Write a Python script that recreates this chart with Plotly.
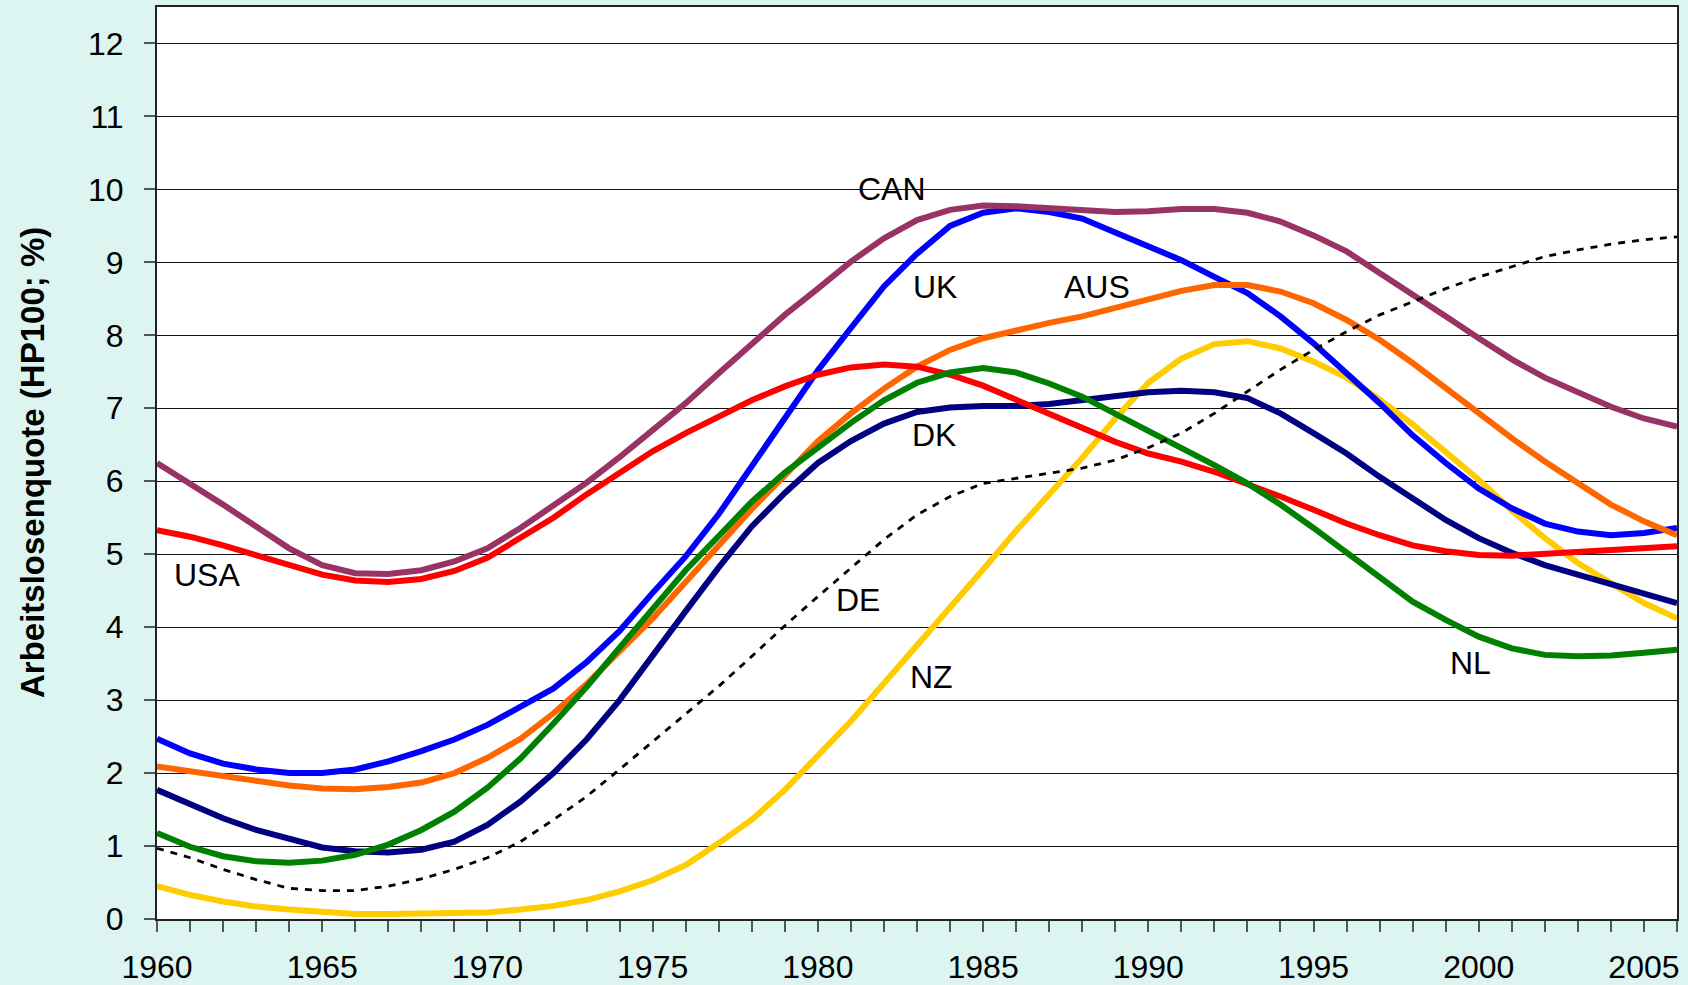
import plotly.graph_objects as go

years = list(range(1960, 2007))

CAN = [6.25, 5.97, 5.68, 5.38, 5.08, 4.85, 4.74, 4.73, 4.78, 4.90,
       5.08, 5.36, 5.66, 5.98, 6.33, 6.70, 7.07, 7.48, 7.89, 8.28,
       8.64, 9.01, 9.33, 9.58, 9.72, 9.78, 9.77, 9.74, 9.71, 9.69,
       9.70, 9.73, 9.73, 9.68, 9.56, 9.37, 9.15, 8.86, 8.55, 8.26,
       7.96, 7.67, 7.42, 7.21, 7.02, 6.86, 6.75]
UK = [2.47, 2.27, 2.13, 2.05, 2.00, 2.00, 2.05, 2.16, 2.30, 2.46,
      2.66, 2.90, 3.16, 3.52, 3.95, 4.47, 4.97, 5.55, 6.20, 6.85,
      7.52, 8.10, 8.67, 9.12, 9.50, 9.68, 9.74, 9.69, 9.60, 9.41,
      9.22, 9.03, 8.80, 8.58, 8.26, 7.89, 7.48, 7.07, 6.63, 6.25,
      5.90, 5.63, 5.42, 5.31, 5.26, 5.29, 5.36]
AUS = [2.09, 2.02, 1.95, 1.89, 1.83, 1.79, 1.78, 1.81, 1.87, 2.00,
       2.21, 2.47, 2.82, 3.22, 3.66, 4.12, 4.62, 5.12, 5.62, 6.08,
       6.55, 6.93, 7.27, 7.57, 7.80, 7.96, 8.07, 8.17, 8.26, 8.37,
       8.49, 8.61, 8.69, 8.69, 8.60, 8.44, 8.21, 7.94, 7.62, 7.27,
       6.93, 6.59, 6.27, 5.97, 5.68, 5.45, 5.26]
DK = [1.77, 1.57, 1.38, 1.22, 1.09, 0.98, 0.93, 0.91, 0.95, 1.06,
      1.29, 1.61, 2.00, 2.46, 3.00, 3.62, 4.22, 4.82, 5.38, 5.84,
      6.25, 6.55, 6.79, 6.95, 7.01, 7.03, 7.03, 7.06, 7.11, 7.17,
      7.22, 7.24, 7.22, 7.14, 6.93, 6.66, 6.38, 6.06, 5.77, 5.47,
      5.22, 5.02, 4.85, 4.72, 4.58, 4.44, 4.33]
NL = [1.18, 0.99, 0.86, 0.79, 0.77, 0.80, 0.88, 1.02, 1.22, 1.47,
      1.80, 2.20, 2.68, 3.18, 3.72, 4.26, 4.78, 5.25, 5.72, 6.12,
      6.47, 6.80, 7.11, 7.35, 7.49, 7.55, 7.49, 7.34, 7.16, 6.93,
      6.70, 6.47, 6.22, 5.97, 5.68, 5.36, 5.03, 4.69, 4.35, 4.10,
      3.87, 3.71, 3.62, 3.60, 3.61, 3.65, 3.69]
USA = [5.33, 5.24, 5.12, 4.98, 4.84, 4.72, 4.64, 4.62, 4.66, 4.77,
       4.95, 5.22, 5.50, 5.82, 6.12, 6.41, 6.66, 6.89, 7.11, 7.30,
       7.46, 7.56, 7.60, 7.57, 7.46, 7.31, 7.12, 6.93, 6.73, 6.54,
       6.38, 6.27, 6.13, 5.97, 5.79, 5.61, 5.42, 5.26, 5.12, 5.04,
       4.99, 4.98, 5.01, 5.04, 5.06, 5.08, 5.11]
NZ = [0.45, 0.33, 0.24, 0.17, 0.13, 0.09, 0.07, 0.07, 0.07, 0.07,
      0.09, 0.13, 0.18, 0.26, 0.38, 0.53, 0.74, 1.04, 1.36, 1.77,
      2.23, 2.71, 3.23, 3.74, 4.26, 4.79, 5.32, 5.82, 6.32, 6.86,
      7.35, 7.68, 7.88, 7.92, 7.82, 7.64, 7.42, 7.12, 6.78, 6.40,
      6.02, 5.60, 5.22, 4.88, 4.60, 4.33, 4.12]
DE = [0.97, 0.84, 0.68, 0.54, 0.42, 0.39, 0.39, 0.45, 0.55, 0.68,
      0.84, 1.06, 1.36, 1.68, 2.05, 2.43, 2.80, 3.19, 3.60, 4.02,
      4.42, 4.81, 5.20, 5.54, 5.79, 5.97, 6.04, 6.11, 6.18, 6.29,
      6.46, 6.66, 6.93, 7.23, 7.53, 7.80, 8.05, 8.28, 8.46, 8.64,
      8.80, 8.94, 9.08, 9.17, 9.25, 9.31, 9.35]

# draw order (bottom to top)
series = [
    ("NZ", NZ, "#FFCC00", "solid", 6),
    ("UK", UK, "#0000FF", "solid", 6),
    ("AUS", AUS, "#FF6600", "solid", 6),
    ("DK", DK, "#000080", "solid", 6),
    ("USA", USA, "#FF0000", "solid", 6),
    ("NL", NL, "#008000", "solid", 6),
    ("CAN", CAN, "#993366", "solid", 6),
    ("DE", DE, "#000000", "7px,7px", 2.8),
]

# label texts and their anchor positions (year, value)
label_names = ["CAN", "UK", "AUS", "DK", "DE", "NZ", "NL", "USA"]
label_x = [1982.25, 1983.55, 1988.45, 1983.5, 1981.2, 1983.45, 1999.75, 1961.5]
label_y = [10.0, 8.66, 8.66, 6.63, 4.37, 3.32, 3.51, 4.71]

FONT = "Liberation Sans, Arial, sans-serif"
W, H = 1688, 985
ML, MR, MT, MB = 157, 11, 7, 66

fig = go.Figure()
for name, vals, color, dash, w in series:
    fig.add_trace(go.Scatter(
        x=years, y=vals, mode="lines", name=name,
        line=dict(color=color, width=w, dash=dash),
        hoverinfo="x+y+name",
    ))

for t, lx, ly in zip(label_names, label_x, label_y):
    fig.add_annotation(x=lx, y=ly, text=t, showarrow=False,
                       font=dict(family=FONT, size=32, color="black"),
                       xanchor="center", yanchor="middle")

# y-axis title as rotated annotation
fig.add_annotation(
    xref="paper", yref="paper",
    x=-(ML - 32) / (W - ML - MR), y=0.5,
    text="<b>Arbeitslosenquote (HP100; %)</b>", textangle=-90,
    showarrow=False, xanchor="center", yanchor="middle",
    font=dict(family=FONT, size=33, color="black"),
)

fig.update_layout(
    width=W, height=H,
    margin=dict(l=ML, r=MR, t=MT, b=MB, autoexpand=False),
    paper_bgcolor="#DCF5F1",
    plot_bgcolor="white",
    showlegend=False,
    font=dict(family=FONT, size=32, color="black"),
)

fig.update_xaxes(
    range=[1960, 2006], automargin=False,
    tickmode="linear", tick0=1960, dtick=5,
    ticks="outside", ticklen=11, tickwidth=1.5, tickcolor="#555555",
    minor=dict(dtick=1, tick0=1960, ticks="outside", ticklen=11,
               tickwidth=1.5, tickcolor="#555555", showgrid=False),
    showgrid=False, zeroline=False,
    showline=True, linecolor="#222222", linewidth=2, mirror=True,
    tickfont=dict(family=FONT, size=32, color="black"),
    ticklabelstandoff=8,
)
fig.update_yaxes(
    range=[0, 12.5], automargin=False,
    tickmode="linear", tick0=0, dtick=1,
    ticks="outside", ticklen=11, tickwidth=1.5, tickcolor="#555555",
    showgrid=True, gridcolor="#111111", gridwidth=1,
    zeroline=False,
    showline=True, linecolor="#222222", linewidth=2, mirror=True,
    tickfont=dict(family=FONT, size=32, color="black"),
    ticklabelstandoff=14,
)

fig.write_html("out.html",
               config={"displayModeBar": False},
               post_script="document.body.style.margin='0';document.body.style.overflow='hidden';")
